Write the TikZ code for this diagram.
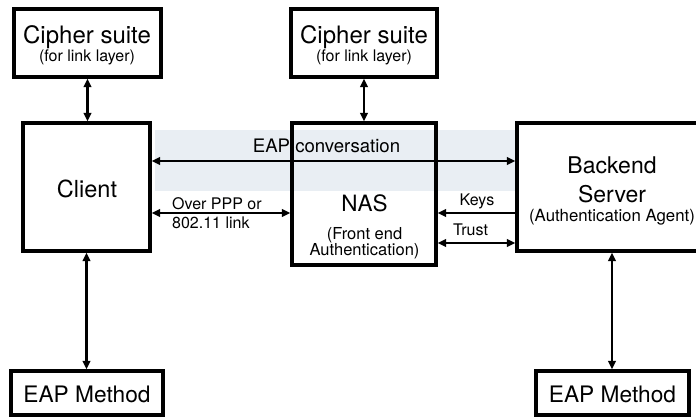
\documentclass[tikz,border=0pt]{standalone}
\usepackage{fontspec}
\setmainfont{TeX Gyre Heros}
\usetikzlibrary{arrows.meta}
\definecolor{bandfill}{RGB}{233,238,243}
\tikzset{
  box/.style={draw, rectangle, line width=3.2pt, inner sep=0pt},
  txt/.style={anchor=base, inner sep=0pt},
  link/.style={line width=2.2pt, -{Triangle[length=8.5pt,width=7.5pt]}},
  dbl/.style={line width=2.2pt, {Triangle[length=8.5pt,width=7.5pt]}-{Triangle[length=8.5pt,width=7.5pt]}},
}
\newcommand{\fs}[1]{\fontsize{#1}{#1}\selectfont}
\begin{document}
\begin{tikzpicture}[x=1pt, y=-1pt]
\path[use as bounding box] (0,0) rectangle (696,417);
\clip (0,0) rectangle (696,417);

% shaded band behind the EAP conversation
\fill[bandfill] (155,130) rectangle (517,191);

% boxes
\node[box, minimum width=147pt, minimum height=68pt]  (cipL)    at (87.5,43)  {};
\node[box, minimum width=146pt, minimum height=68pt]  (cipM)    at (364,43)   {};
\node[box, minimum width=127pt, minimum height=128pt] (client)  at (86.5,187) {};
\node[box, minimum width=144pt, minimum height=142pt] (nas)     at (364,194)  {};
\node[box, minimum width=203pt, minimum height=128pt] (backend) at (618.5,187) {};
\node[box, minimum width=152pt, minimum height=44pt]  (eapL)    at (87,393)   {};
\node[box, minimum width=153pt, minimum height=44pt]  (eapR)    at (612.5,393) {};

% box texts
\node[txt, font=\fs{24}]   (cipLa) at (87,44)  {Cipher suite};
\node[txt, font=\fs{16}]   (cipLb) at (87,62)  {(for link layer)};
\node[txt, font=\fs{24}]   (cipMa) at (364,44) {Cipher suite};
\node[txt, font=\fs{16}]   (cipMb) at (364,62) {(for link layer)};
\node[txt, font=\fs{23.5}] (clientt) at (87,197) {Client};
\node[txt, font=\fs{22.5}] (nasa) at (364.5,211) {NAS};
\node[txt, font=\fs{16.5}] (nasb) at (364.5,239) {(Front end};
\node[txt, font=\fs{16.5}] (nasc) at (364.5,255) {Authentication)};
\node[txt, font=\fs{23}]   (backa) at (612,173) {Backend};
\node[txt, font=\fs{23}]   (backb) at (612,202.5) {Server};
\node[txt, font=\fs{16.8}] (backc) at (612,221) {(Authentication Agent)};
\node[txt, font=\fs{22.7}] (eapLt) at (87,402.5) {EAP Method};
\node[txt, font=\fs{22.7}] (eapRt) at (612.5,402.5) {EAP Method};

% connector labels
\node[txt, font=\fs{18.6}] (convt) at (326.5,152.5) {EAP conversation};
\node[txt, font=\fs{16}, anchor=base west] (ppp1) at (172,209.5) {Over PPP or};
\node[txt, font=\fs{16}, anchor=base west] (ppp2) at (172,228.5) {802.11 link};
\node[txt, font=\fs{16}] (keyst)  at (477,205) {Keys};
\node[txt, font=\fs{16}] (trustt) at (470.5,235) {Trust};

% heights of the horizontal connectors
\coordinate (convY)  at (0,161);
\coordinate (pppY)   at (0,213);
\coordinate (trustY) at (0,243);
\coordinate (rightX) at (612,0);

% connectors
\draw[dbl] (cipL.south) -- (cipL.south |- client.north);
\draw[dbl] (cipM.south) -- (cipM.south |- nas.north);
\draw[dbl] (client.east |- convY) -- (backend.west |- convY);
\draw[dbl] (client.east |- pppY) -- (nas.west |- pppY);
\draw[link] (backend.west |- pppY) -- (nas.east |- pppY);
\draw[dbl] (nas.east |- trustY) -- (backend.west |- trustY);
\draw[dbl] (client.south) -- (client.south |- eapL.north);
\draw[dbl] (rightX |- backend.south) -- (rightX |- eapR.north);
\end{tikzpicture}
\end{document}
